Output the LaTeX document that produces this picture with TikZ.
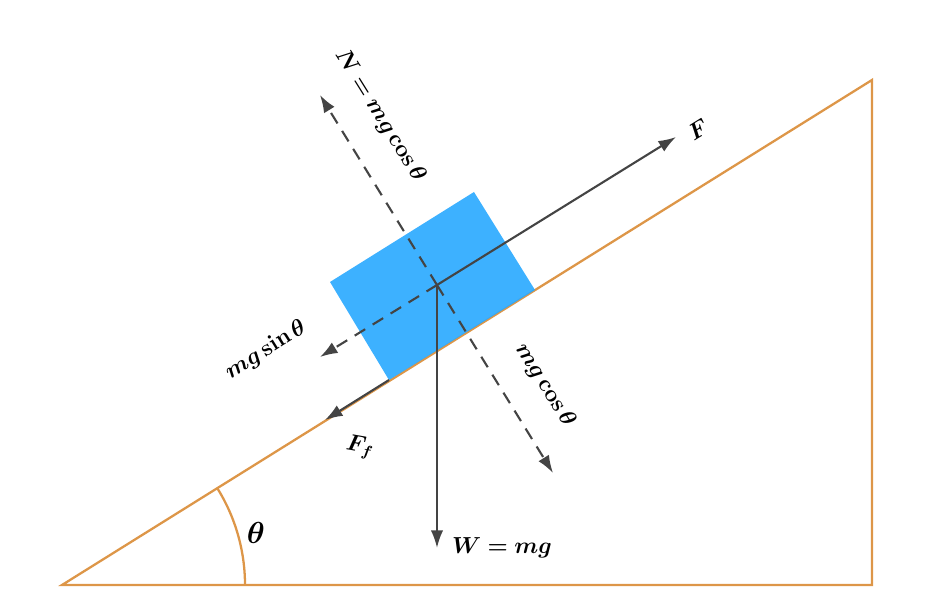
\documentclass[tikz,border=0pt]{standalone}
\usepackage{amsmath}
\usepackage{bm}
\usetikzlibrary{%
  arrows.meta,
  calc
}
\definecolor{incline}{RGB}{221,150,72}
\definecolor{block}{RGB}{40,168,255}
\definecolor{force}{RGB}{68,68,68}
\tikzset{
  force/.style={draw=force,line width=1.2pt,-{Latex[length=10pt,width=7pt]}},
  comp/.style={force,dashed,dash pattern=on 7pt off 5pt},
  lbl/.style={font=\large,scale=1.1}
}

\begin{document}
\begin{tikzpicture}[x=0.02cm,y=0.02cm]
    \useasboundingbox (0,0) rectangle (931,616);

    % incline
    \draw[incline,line width=1.3pt] (62,31) -- (872,31) -- (872,536) -- cycle;
    \draw[incline,line width=1.3pt] (245,31) arc[start angle=0,end angle=32,radius=183];
    \node[font=\LARGE] (theta) at (256,83) {$\bm{\theta}$};

    % block
    \fill[block,opacity=0.9] (330,334) -- (474,424) -- (535,326) -- (389,236) -- cycle;

    \coordinate (o) at (437,331);
    \coordinate (Ftip) at (676,479);
    \coordinate (Ntip) at (320,521);
    \coordinate (Ctip) at (553,143);
    \coordinate (Stip) at (320,259);
    \coordinate (Wtip) at (437,68);
    \coordinate (Fa) at (389,236);
    \coordinate (Fftip) at (325,196);

    % forces
    \draw[force] (o) -- (Ftip);
    \draw[force] (o) -- (Wtip);
    \draw[force] (Fa) -- (Fftip);
    \draw[comp] (o) -- (Ntip);
    \draw[comp] (o) -- (Ctip);
    \draw[comp] (o) -- (Stip);

    % labels
    \node[lbl,rotate=-58] (N) at (380,500) {$\bm{N=mg\cos\theta}$};
    \node[lbl,rotate=-58] (C) at (545,231) {$\bm{mg\cos\theta}$};
    \node[lbl,rotate=32] (S) at (266,266) {$\bm{mg\sin\theta}$};
    \node[lbl,rotate=32] (F) at (698,486) {$\bm{F}$};
    \node[lbl,rotate=-10] (Ff) at (360,169) {$\bm{F_f}$};
    \node[lbl] (W) at (502,68) {$\bm{W=mg}$};
\end{tikzpicture}
\end{document}
